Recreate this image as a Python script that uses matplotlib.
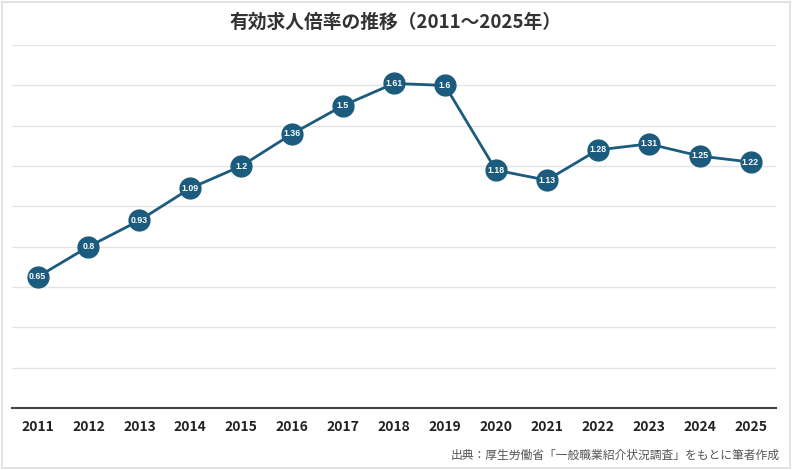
import matplotlib
matplotlib.use("Agg")
import matplotlib.pyplot as plt
from matplotlib.patches import Rectangle

plt.rcParams["font.family"] = ["Noto Sans CJK JP", "DejaVu Sans"]

YEARS = ["2011", "2012", "2013", "2014", "2015", "2016", "2017", "2018",
         "2019", "2020", "2021", "2022", "2023", "2024", "2025"]
RATIO = [0.65, 0.8, 0.93, 1.09, 1.2, 1.36, 1.5, 1.61,
         1.6, 1.18, 1.13, 1.28, 1.31, 1.25, 1.22]
TITLE = "有効求人倍率の推移（2011～2025年）"
SOURCE = "出典：厚生労働省「一般職業紹介状況調査」をもとに筆者作成"

LINE_COLOR = "#1b5b7e"

fig = plt.figure(figsize=(7.92, 4.70), dpi=100)
fig.patches.append(Rectangle((0.003, 0.004), 0.994, 0.992, transform=fig.transFigure,
                             fill=False, edgecolor="#dddddd", linewidth=1.2))
ax = fig.add_axes([0.0152, 0.132, 0.9646, 0.772])

x = list(range(len(YEARS)))
ax.plot(x, RATIO, color=LINE_COLOR, linewidth=2.0, marker="o", markersize=15,
        markerfacecolor=LINE_COLOR, markeredgecolor=LINE_COLOR, zorder=3)
for xi, v in zip(x, RATIO):
    ax.text(xi, v, f"{v:g}", ha="center", va="center", color="white",
            fontsize=6.3, fontweight="bold", zorder=4,
            family=["Liberation Sans", "DejaVu Sans"])

ax.set_xlim(-0.5, len(YEARS) - 0.5)
ax.set_ylim(0, 1.8)
ax.set_yticks([i * 0.2 for i in range(10)])
ax.yaxis.grid(True, color="#e4e4e4", linewidth=1.0)
ax.set_axisbelow(True)
ax.tick_params(axis="y", left=False, labelleft=False)
ax.set_xticks(x)
ax.set_xticklabels(YEARS, fontsize=10, fontweight="bold", color="#222222")
ax.tick_params(axis="x", length=0, pad=9)
for s in ["top", "right", "left"]:
    ax.spines[s].set_visible(False)
ax.spines["bottom"].set_color("#444444")
ax.spines["bottom"].set_linewidth(1.5)

fig.text(0.5, 0.953, TITLE, ha="center", va="center", fontsize=13.5,
         fontweight="bold", color="#333333")
fig.text(0.985, 0.032, SOURCE, ha="right", va="center", fontsize=8.5, color="#555555")

fig.savefig("out.png", dpi=100, facecolor="white")
